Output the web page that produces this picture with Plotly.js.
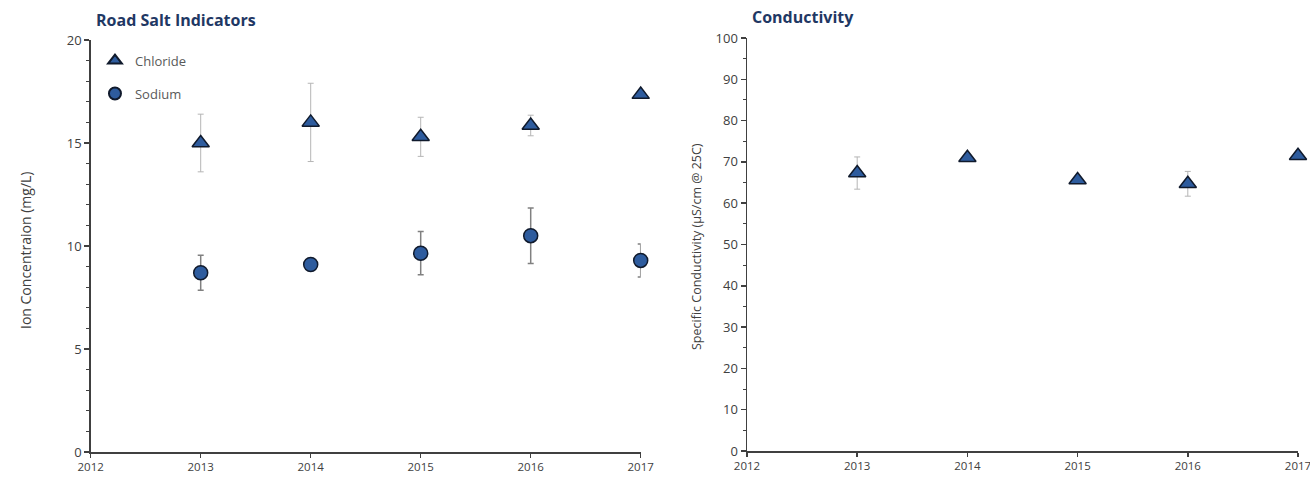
<!DOCTYPE html>
<html>
<head>
<meta charset="utf-8">
<script src="https://cdn.plot.ly/plotly-3.0.1.min.js"></script>
<style>html,body{margin:0;padding:0;background:#fff;}#chart{width:1310px;height:480px;}</style>
</head>
<body>
<div id="chart"></div>
<script>
// Data
var years = [2013, 2014, 2015, 2016, 2017];
var chloride = [15.0, 16.0, 15.3, 15.85, 17.35];
var chlorideErr = [1.4, 1.9, 0.95, 0.5, 0];
var sodium = [8.7, 9.1, 9.65, 10.5, 9.3];
var sodiumErr = [0.85, 0, 1.05, 1.35, 0.8];
var conductivity = [67.3, 71.0, 65.6, 64.7, 71.5];
var conductivityErr = [3.9, 0, 0, 3.0, 0];
var xTicks = [2012, 2013, 2014, 2015, 2016, 2017];

var FONT = "'Open Sans', sans-serif";
var markerFill = '#2E5C9E';
var markerLine = '#101a2c';
var titleColor = '#1F3864';
var textColor = '#404040';

var traces = [
  {
    x: years, y: chloride, name: 'Chloride', type: 'scatter', mode: 'markers',
    xaxis: 'x', yaxis: 'y', legendgroup: 'a', cliponaxis: false,
    marker: {symbol: 'triangle-up', size: 15, color: markerFill, line: {color: markerLine, width: 1.5}},
    error_y: {type: 'data', array: chlorideErr, visible: true, color: '#b5b5b5', thickness: 1, width: 3}
  },
  {
    x: years, y: sodium, name: 'Sodium', type: 'scatter', mode: 'markers',
    xaxis: 'x', yaxis: 'y', legendgroup: 'b', cliponaxis: false,
    marker: {symbol: 'circle', size: 14, color: markerFill, line: {color: markerLine, width: 1.5}},
    error_y: {type: 'data', array: sodiumErr, visible: true, color: '#808080', thickness: 1.5, width: 3}
  },
  {
    x: years, y: conductivity, name: 'Conductivity', type: 'scatter', mode: 'markers',
    xaxis: 'x2', yaxis: 'y2', showlegend: false, cliponaxis: false,
    marker: {symbol: 'triangle-up', size: 15, color: markerFill, line: {color: markerLine, width: 1.5}},
    error_y: {type: 'data', array: conductivityErr, visible: true, color: '#b5b5b5', thickness: 1, width: 3}
  }
];

function xAxis(domain, anchor) {
  return {
    domain: domain, anchor: anchor, range: [2012, 2017], tickvals: xTicks, ticktext: xTicks.map(String),
    showgrid: false, zeroline: false, showline: true, linecolor: '#404040', linewidth: 1.5,
    ticks: 'outside', ticklen: 4, tickcolor: '#404040', tickwidth: 1.5, ticklabeloverflow: 'allow',
    tickfont: {family: FONT, size: 11.5, color: textColor}, fixedrange: true
  };
}
function yAxis(domain, anchor, max, dtick, minorDtick) {
  return {
    domain: domain, anchor: anchor, range: [0, max], dtick: dtick, tick0: 0,
    showgrid: false, zeroline: false, showline: true, linecolor: '#404040', linewidth: 1.5,
    ticks: 'outside', ticklen: 5, tickcolor: '#404040', tickwidth: 1.5,
    minor: {dtick: minorDtick, ticks: 'outside', ticklen: 3, tickcolor: '#404040', tickwidth: 1},
    tickfont: {family: FONT, size: 13, color: textColor}, fixedrange: true
  };
}

var layout = {
  width: 1310, height: 480,
  margin: {l: 0, r: 0, t: 0, b: 0},
  paper_bgcolor: '#ffffff', plot_bgcolor: '#ffffff',
  showlegend: true,
  legend: {
    x: 0.0725, y: 0.905, xanchor: 'left', yanchor: 'top',
    bgcolor: 'rgba(0,0,0,0)', font: {family: FONT, size: 13, color: '#595959'},
    itemsizing: 'constant', tracegroupgap: 13, traceorder: 'grouped'
  },
  xaxis: xAxis([90.7 / 1310, 640.7 / 1310], 'y'),
  yaxis: yAxis([28 / 480, 440 / 480], 'x', 20, 5, 1),
  xaxis2: xAxis([747 / 1310, 1298 / 1310], 'y2'),
  yaxis2: yAxis([29 / 480, 442 / 480], 'x2', 100, 10, 5),
  annotations: [
    {text: '<b>Road Salt Indicators</b>', xref: 'paper', yref: 'paper', x: 94 / 1310, y: 1 - 20 / 480,
     xanchor: 'left', yanchor: 'middle', showarrow: false, font: {family: FONT, size: 16, color: titleColor}},
    {text: '<b>Conductivity</b>', xref: 'paper', yref: 'paper', x: 750 / 1310, y: 1 - 17 / 480,
     xanchor: 'left', yanchor: 'middle', showarrow: false, font: {family: FONT, size: 16, color: titleColor}},
    {text: 'Ion Concentraion (mg/L)', xref: 'paper', yref: 'paper', x: 25 / 1310, y: 1 - 251 / 480,
     xanchor: 'center', yanchor: 'middle', textangle: -90, showarrow: false, font: {family: FONT, size: 14, color: textColor}},
    {text: 'Specific Conductivity (\u00b5S/cm @ 25C)', xref: 'paper', yref: 'paper', x: 697 / 1310, y: 1 - 247 / 480,
     xanchor: 'center', yanchor: 'middle', textangle: -90, showarrow: false, font: {family: FONT, size: 12.5, color: textColor}}
  ]
};

Plotly.newPlot('chart', traces, layout, {displayModeBar: false, staticPlot: true});
</script>
</body>
</html>
